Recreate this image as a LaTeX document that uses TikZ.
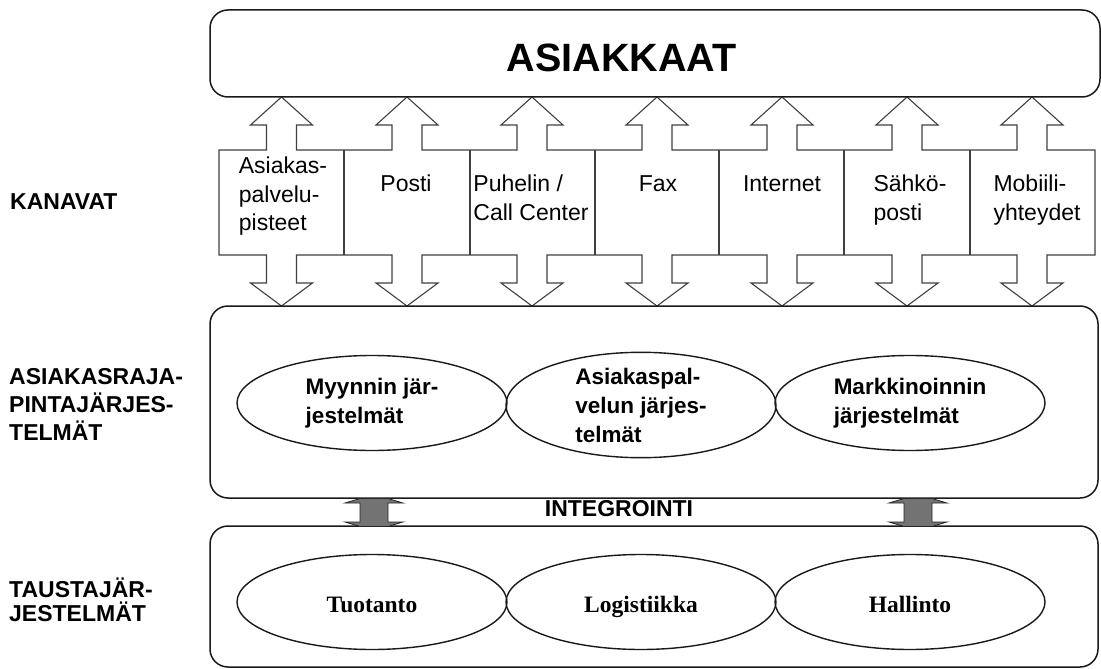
\documentclass[tikz,border=0pt]{standalone}
\usepackage{fontspec}
\setmainfont{Liberation Sans}
\newfontfamily\serifface{Liberation Serif}
\usetikzlibrary{shapes.geometric}
\begin{document}
\begin{tikzpicture}[x=1pt,y=-1pt,
  box/.style={draw=black!90, line width=1.5pt, fill=white, rounded corners=18pt, inner sep=0pt},
  chan/.style={draw=black!75, line width=1.1pt, line join=miter},
  chtext/.style={inner sep=0pt, align=left, anchor=north, font=\fontsize{23}{28.5}\selectfont},
  lbl/.style={inner sep=0pt, align=left, anchor=north west, font=\fontsize{23}{28}\selectfont\bfseries},
  ell/.style={ellipse, draw=black!90, line width=1.4pt, minimum width=270pt, minimum height=95pt, inner sep=0pt, align=left, font=\fontsize{22.5}{29}\selectfont\bfseries},
  sell/.style={ell, text height=20pt, text depth=0pt, font=\fontsize{23.5}{28}\selectfont\serifface\bfseries},
  integ/.style={draw=black!85, line width=0.8pt, fill=black!55, line join=miter}
]
\useasboundingbox (0,0) rectangle (1101,669);

% channels with double arrows
\draw[chan, fill=white] (219,150)
  \foreach \c in {281.5,407,532,657,782,907,1032} {
    -- (\c-15,150) -- (\c-15,125) -- (\c-31,125) -- (\c,97) -- (\c+31,125) -- (\c+15,125) -- (\c+15,150) }
  -- (1095,150) -- (1095,255)
  \foreach \c in {1032,907,782,657,532,407,281.5} {
    -- (\c+15,255) -- (\c+15,283) -- (\c+31,283) -- (\c,306) -- (\c-31,283) -- (\c-15,283) -- (\c-15,255) }
  -- (219,255) -- cycle;
\foreach \x in {344,470,595,719,844,970} \draw[chan] (\x,150) -- (\x,255);

% boxes
\node[box, minimum width=890pt, minimum height=87pt] (asiakkaat) at (655,53.5) {};
\node[inner sep=0pt, anchor=base, font=\fontsize{39.5}{40}\selectfont\bfseries] (title) at (621.5,71) {ASIAKKAAT};
\node[box, minimum width=888pt, minimum height=192pt] (front) at (654,402) {};
\node[box, minimum width=888pt, minimum height=141pt] (back) at (654,596.5) {};

% channel texts
\node[chtext] (ch1) at (283,157) {Asiakas-\\palvelu-\\pisteet};
\node[chtext] (ch2) at (406,175) {Posti};
\node[chtext] (ch3) at (531,175) {Puhelin /\\Call Center};
\node[chtext] (ch4) at (658,175) {Fax};
\node[chtext] (ch5) at (782,175) {Internet};
\node[chtext] (ch6) at (910,175) {Sähkö-\\posti};
\node[chtext] (ch7) at (1037,175) {Mobiili-\\yhteydet};

% ellipses
\node[ell] (myynti) at (372,403) {Myynnin jär-\\jestelmät};
\node[ell] (asp) at (641,405) {Asiakaspal-\\velun järjes-\\telmät};
\node[ell] (mark) at (910,403) {Markkinoinnin\\järjestelmät};
\node[sell] (tuot) at (372,602) {Tuotanto};
\node[sell] (log) at (641,602) {Logistiikka};
\node[sell] (hall) at (910,602) {Hallinto};

% integration connectors
\foreach \cx in {374,918} {
  \draw[integ] (\cx-14,498.5) -- (\cx+14,498.5) -- (\cx+29,503) -- (\cx+14,503) -- (\cx+14,522) -- (\cx+29,522)
    -- (\cx+14,526.5) -- (\cx-14,526.5) -- (\cx-29,522) -- (\cx-14,522) -- (\cx-14,503) -- (\cx-29,503) -- cycle;
}
\node[inner sep=0pt, anchor=base, font=\fontsize{23}{28}\selectfont\bfseries] (integ) at (619,516) {INTEGROINTI};

% left labels
\node[lbl] (kanavat) at (10,193) {KANAVAT};
\node[lbl] (frontlbl) at (9,368) {ASIAKASRAJA-\\PINTAJÄRJES-\\TELMÄT};
\node[lbl, font=\fontsize{23}{24}\selectfont\bfseries] (backlbl) at (9,578) {TAUSTAJÄR-\\JESTELMÄT};
\end{tikzpicture}
\end{document}
